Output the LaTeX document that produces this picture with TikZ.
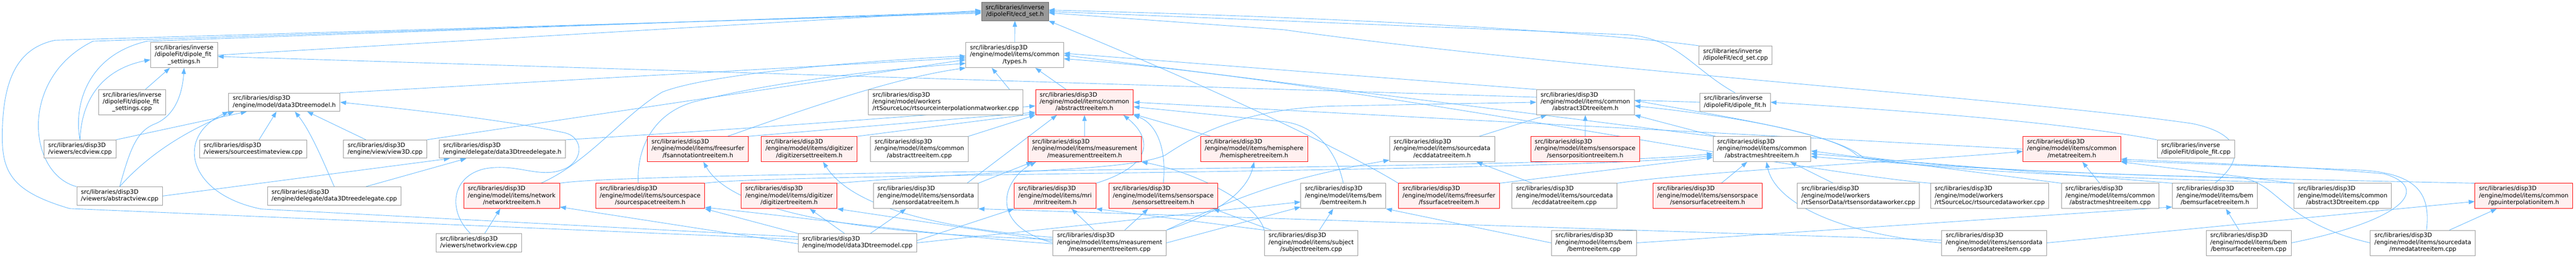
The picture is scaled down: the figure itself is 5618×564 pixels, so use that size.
\documentclass[tikz,border=0pt]{standalone}
\usepackage{fontspec}
\newfontfamily\dotfont{DejaVu Sans}
\usetikzlibrary{arrows.meta}

\definecolor{edgeblue}{HTML}{63B8FF}
\definecolor{nodegray}{HTML}{999999}
\definecolor{rootgray}{HTML}{666666}
\definecolor{truncfill}{HTML}{FFF0F0}

\pgfdeclarelayer{edges}
\pgfsetlayers{edges,main}

% file labels: upper lines flush left, last line centred
\newcommand{\twoline}[2]{\begin{tabular}{@{}c@{}}\multicolumn{1}{@{}l@{}}{#1}\\#2\end{tabular}}
\newcommand{\threeline}[3]{\begin{tabular}{@{}c@{}}\multicolumn{1}{@{}l@{}}{#1}\\\multicolumn{1}{@{}l@{}}{#2}\\#3\end{tabular}}
\newcommand{\dispfile}[2]{\threeline{src/libraries/disp3D}{#1}{#2}}
\newcommand{\disptwo}[1]{\twoline{src/libraries/disp3D}{#1}}

\begin{document}
\begin{tikzpicture}[x=1pt,y=-1pt,
	file/.style={draw=nodegray,fill=white,line width=1pt,inner xsep=9pt,inner ysep=5pt,
		font=\dotfont\fontsize{13}{15}\selectfont},
	trunc/.style={file,draw=red,fill=truncfill},
	root/.style={file,draw=rootgray,fill=nodegray},
	dep/.style={draw=edgeblue,line width=1pt,-{Triangle[length=13pt,width=9.5pt]}}]
	\path[use as bounding box] (0,0) rectangle (5618,564);

	% row 0 and 1
	\node[root]  (ecdseth)    at (2213.5,25)  {\twoline{src/libraries/inverse}{/dipoleFit/ecd\_set.h}};
	\node[file]  (dfsh)       at (401.5,120.5) {\threeline{src/libraries/inverse}{/dipoleFit/dipole\_fit}{\_settings.h}};
	\node[file]  (typesh)     at (2213,120.5) {\dispfile{/engine/model/items/common}{/types.h}};
	\node[file]  (ecdsetcpp)  at (3785,120.5) {\twoline{src/libraries/inverse}{/dipoleFit/ecd\_set.cpp}};

	% row 2
	\node[file]  (dfscpp)     at (288,223.5)  {\threeline{src/libraries/inverse}{/dipoleFit/dipole\_fit}{\_settings.cpp}};
	\node[file]  (d3tmh)      at (620,223.5)  {\disptwo{/engine/model/data3Dtreemodel.h}};
	\node[file]  (rtsimwcpp)  at (2062.5,223.5) {\dispfile{/engine/model/workers}{/rtSourceLoc/rtsourceinterpolationmatworker.cpp}};
	\node[trunc] (abstreeh)   at (2365,223.5) {\dispfile{/engine/model/items/common}{/abstracttreeitem.h}};
	\node[file]  (abs3dh)     at (3457.5,223.5) {\dispfile{/engine/model/items/common}{/abstract3Dtreeitem.h}};
	\node[file]  (dipfith)    at (3784,223.5) {\twoline{src/libraries/inverse}{/dipoleFit/dipole\_fit.h}};

	% row 3
	\node[file]  (ecdviewcpp) at (174.5,326)  {\disptwo{/viewers/ecdview.cpp}};
	\node[file]  (seviewcpp)  at (552,326)    {\disptwo{/viewers/sourceestimateview.cpp}};
	\node[file]  (view3dcpp)  at (840,326)    {\disptwo{/engine/view/view3D.cpp}};
	\node[file]  (d3tdh)      at (1095.5,326) {\disptwo{/engine/delegate/data3Dtreedelegate.h}};
	\node[trunc] (fsannoth)   at (1522,326)   {\dispfile{/engine/model/items/freesurfer}{/fsannotationtreeitem.h}};
	\node[trunc] (digisetth)  at (1765,326)   {\dispfile{/engine/model/items/digitizer}{/digitizersettreeitem.h}};
	\node[file]  (abstreecpp) at (2005,326)   {\dispfile{/engine/model/items/common}{/abstracttreeitem.cpp}};
	\node[trunc] (meash)      at (2365.5,326) {\dispfile{/engine/model/items/measurement}{/measurementtreeitem.h}};
	\node[trunc] (hemih)      at (2735,326)   {\dispfile{/engine/model/items/hemisphere}{/hemispheretreeitem.h}};
	\node[file]  (ecddatah)   at (3145,326)   {\dispfile{/engine/model/items/sourcedata}{/ecddatatreeitem.h}};
	\node[trunc] (sensorposh) at (3457,326)   {\dispfile{/engine/model/items/sensorspace}{/sensorpositiontreeitem.h}};
	\node[file]  (absmeshh)   at (3842.5,326) {\dispfile{/engine/model/items/common}{/abstractmeshtreeitem.h}};
	\node[trunc] (metah)      at (4518.5,326) {\dispfile{/engine/model/items/common}{/metatreeitem.h}};
	\node[file]  (dipfitcpp)  at (4789,326)   {\twoline{src/libraries/inverse}{/dipoleFit/dipole\_fit.cpp}};

	% row 4
	\node[file]  (absviewcpp) at (261,428.5)  {\disptwo{/viewers/abstractview.cpp}};
	\node[file]  (d3tdcpp)    at (729,428.5)  {\disptwo{/engine/delegate/data3Dtreedelegate.cpp}};
	\node[trunc] (networkh)   at (1116,428.5) {\dispfile{/engine/model/items/network}{/networktreeitem.h}};
	\node[trunc] (sourcespaceh) at (1418,428.5) {\dispfile{/engine/model/items/sourcespace}{/sourcespacetreeitem.h}};
	\node[trunc] (digith)     at (1721,428.5) {\dispfile{/engine/model/items/digitizer}{/digitizertreeitem.h}};
	\node[file]  (sensordatah) at (2019,428.5) {\dispfile{/engine/model/items/sensordata}{/sensordatatreeitem.h}};
	\node[trunc] (mrih)       at (2301,428.5) {\dispfile{/engine/model/items/mri}{/mritreeitem.h}};
	\node[trunc] (sensorseth) at (2537,428.5) {\dispfile{/engine/model/items/sensorspace}{/sensorsettreeitem.h}};
	\node[file]  (bemh)       at (2929.5,428.5) {\dispfile{/engine/model/items/bem}{/bemtreeitem.h}};
	\node[trunc] (fssurfh)    at (3160,428.5) {\dispfile{/engine/model/items/freesurfer}{/fssurfacetreeitem.h}};
	\node[file]  (ecddatacpp) at (3412,428.5) {\dispfile{/engine/model/items/sourcedata}{/ecddatatreeitem.cpp}};
	\node[trunc] (sensorsurfh) at (3724,428.5) {\dispfile{/engine/model/items/sensorspace}{/sensorsurfacetreeitem.h}};
	\node[file]  (rtsdwcpp)   at (4053,428.5) {\dispfile{/engine/model/workers}{/rtSensorData/rtsensordataworker.cpp}};
	\node[file]  (rtsrcdwcpp) at (4339.5,428.5) {\dispfile{/engine/model/workers}{/rtSourceLoc/rtsourcedataworker.cpp}};
	\node[file]  (absmeshcpp) at (4602,428.5) {\dispfile{/engine/model/items/common}{/abstractmeshtreeitem.cpp}};
	\node[file]  (bemsurfh)   at (4830.5,428.5) {\dispfile{/engine/model/items/bem}{/bemsurfacetreeitem.h}};
	\node[file]  (abs3dcpp)   at (5109,428.5) {\dispfile{/engine/model/items/common}{/abstract3Dtreeitem.cpp}};
	\node[trunc] (gpuh)       at (5504,428.5) {\dispfile{/engine/model/items/common}{/gpuinterpolationitem.h}};

	% row 5
	\node[file]  (networkviewcpp) at (1044,531) {\disptwo{/viewers/networkview.cpp}};
	\node[file]  (d3tmcpp)    at (1870,531)   {\disptwo{/engine/model/data3Dtreemodel.cpp}};
	\node[file]  (meascpp)    at (2420,531)   {\dispfile{/engine/model/items/measurement}{/measurementtreeitem.cpp}};
	\node[file]  (subjectcpp) at (2859.5,531) {\dispfile{/engine/model/items/subject}{/subjecttreeitem.cpp}};
	\node[file]  (bemcpp)     at (3476,531)   {\dispfile{/engine/model/items/bem}{/bemtreeitem.cpp}};
	\node[file]  (sensordatacpp) at (4349,531) {\dispfile{/engine/model/items/sensordata}{/sensordatatreeitem.cpp}};
	\node[file]  (bemsurfcpp) at (4904,531)   {\dispfile{/engine/model/items/bem}{/bemsurfacetreeitem.cpp}};
	\node[file]  (mnedatacpp) at (5284,531)   {\dispfile{/engine/model/items/sourcedata}{/mnedatatreeitem.cpp}};

	\begin{pgfonlayer}{edges}
	% into ecd_set.h
	\draw[dep] (dfsh.east) -- ([yshift=2pt]ecdseth.west);
	\draw[dep] (typesh) -- (ecdseth);
	\draw[dep] (ecdviewcpp.north) .. controls (160,230) and (190,120) .. (321,90) -- (ecdseth.west);
	\draw[dep] (absviewcpp.north west) .. controls (60,380) and (40,170) .. (203,90) -- ([yshift=-2pt]ecdseth.west);
	\draw[dep] ([yshift=8pt]d3tmcpp.west) -- (152,456) .. controls (30,420) and (5,380) .. (5,300)
		.. controls (5,170) and (40,105) .. (120,88) -- ([yshift=-4pt]ecdseth.west);
	\draw[dep] (ecdsetcpp.north west) .. controls (3500,72) and (3000,40) .. ([yshift=3pt]ecdseth.east);
	\draw[dep] (dipfith.north) .. controls (3690,150) and (3660,85) .. (3550,76) -- (ecdseth.east);
	\draw[dep] (bemsurfh.north) .. controls (4905,340) and (4880,290) .. (4780,270)
		.. controls (4400,215) and (3400,150) .. (2800,65) -- ([yshift=-3pt]ecdseth.east);
	\draw[dep] (fssurfh.north west) .. controls (2960,345) and (2700,215) .. (ecdseth.south east);

	% into dipole_fit_settings.h
	\draw[dep] ([xshift=29pt]dfscpp.north) -- ([xshift=-31pt]dfsh.south);
	\draw[dep] (ecdviewcpp.north) .. controls (178,210) and (230,150) .. ([yshift=-10pt]dfsh.west);
	\draw[dep] (absviewcpp.north) .. controls (285,320) and (300,285) .. (340,270)
		.. controls (385,250) and (398,200) .. (dfsh.south);
	\draw[dep] (dipfith.west) -- ([yshift=-3pt]dfsh.east);

	% into data3Dtreemodel.h
	\draw[dep] (ecdviewcpp.north east) -- ([xshift=40pt]d3tmh.south west);
	\draw[dep] (absviewcpp.north) .. controls (330,330) and (420,280) .. ([xshift=12pt]d3tmh.south west);
	\draw[dep] ([yshift=13pt]d3tmcpp.west) -- (570,457) .. controls (410,425) and (380,300) .. (d3tmh.south west);
	\draw[dep] ([xshift=13pt]seviewcpp.north) -- ([xshift=-17pt]d3tmh.south);
	\draw[dep] (d3tdcpp.north) .. controls (712,370) and (680,290) .. ([xshift=23pt]d3tmh.south);
	\draw[dep] ([xshift=-42pt]view3dcpp.north) -- ([xshift=50pt]d3tmh.south);
	\draw[dep] ([xshift=-18pt]networkviewcpp.north) .. controls (975,460) and (985,385) .. (1057,369)
		.. controls (1130,355) and (1180,395) .. (1236,367)
		.. controls (1275,345) and (1270,298) .. (1230,290)
		.. controls (1100,262) and (900,240) .. (d3tmh.east);

	% into data3Dtreedelegate.h
	\draw[dep] (absviewcpp.east) -- ([xshift=24pt]d3tdh.south west);
	\draw[dep] ([xshift=69pt]d3tdcpp.north) -- ([xshift=60pt]d3tdh.south west);

	% into types.h
	\draw[dep] (d3tmh.north east) -- ([yshift=-6pt]typesh.west);
	\draw[dep] ([xshift=-30pt]rtsimwcpp.north east) -- ([xshift=-50pt]typesh.south);
	\draw[dep] ([xshift=-40pt]abstreeh.north) -- ([xshift=45pt]typesh.south);
	\draw[dep] (view3dcpp.north east) -- ([yshift=-10pt]typesh.west);
	\draw[dep] ([xshift=64pt]networkh.north) .. controls (1290,350) and (1360,250) .. (1445,201)
		.. controls (1550,160) and (1900,132) .. ([yshift=-2pt]typesh.west);
	\draw[dep] ([xshift=-26pt]sourcespaceh.north) .. controls (1388,330) and (1420,250) .. (1512,223)
		.. controls (1700,175) and (1950,150) .. ([yshift=-18pt]typesh.west);
	\draw[dep] ([xshift=65pt]fsannoth.north) .. controls (1750,240) and (1950,170) .. (typesh.south west);
	\draw[dep] (abs3dh.north west) -- ([yshift=4pt]typesh.east);
	\draw[dep] (absmeshh.north west) -- (typesh.east);
	\draw[dep] (rtsrcdwcpp.north west) .. controls (3900,375) and (2900,170) .. ([yshift=-8pt]typesh.east);

	% into abstracttreeitem.h
	\draw[dep] (d3tdh.north east) .. controls (1500,290) and (2000,255) .. ([yshift=-8pt]abstreeh.west);
	\draw[dep] (meash) -- (abstreeh);
	\draw[dep] (mrih.north east) .. controls (2520,360) and (2510,300) .. ([xshift=-22pt]abstreeh.south east);
	\draw[dep] (sensorseth.north) .. controls (2545,320) and (2520,270) .. (abstreeh.south east);
	\draw[dep] ([xshift=-95pt]hemih.north) -- ([yshift=2pt]abstreeh.south east);
	\draw[dep] (fsannoth.north east) -- ([yshift=6pt]abstreeh.south west);
	\draw[dep] (digisetth.north east) -- ([yshift=3pt]abstreeh.south west);
	\draw[dep] (abstreecpp.north east) -- (abstreeh.south west);
	\draw[dep] (metah.west) -- (abstreeh.east);
	\draw[dep] (bemh.north) .. controls (2915,330) and (2870,275) .. (2800,266) -- ([yshift=-10pt]abstreeh.east);
	\draw[dep] ([xshift=90pt]sensordatah.north) -- ([xshift=-60pt]abstreeh.south);

	% into measurementtreeitem.h and the other item headers
	\draw[dep] (meascpp.west) .. controls (2150,490) and (2190,390) .. ([xshift=18pt]meash.south west);
	\draw[dep] (sensordatah.north east) -- ([xshift=10pt]meash.south west);
	\draw[dep] (subjectcpp.north west) .. controls (2740,440) and (2600,375) .. (meash.south east);
	\draw[dep] ([xshift=-34pt]meascpp.north) -- ([xshift=36pt]mrih.south);
	\draw[dep] ([xshift=33pt]meascpp.north) -- ([xshift=-33pt]sensorseth.south);
	\draw[dep] (meascpp.north east) .. controls (2650,470) and (2720,420) .. (hemih.south);
	\draw[dep] ([yshift=12pt]meascpp.west) .. controls (2000,495) and (1850,440) .. ([xshift=30pt]digisetth.south);
	\draw[dep] ([xshift=-28pt]d3tmcpp.north) -- ([xshift=45pt]digith.south);
	\draw[dep] ([yshift=4pt]meascpp.west) -- (digith.south east);
	\draw[dep] ([xshift=28pt]d3tmcpp.north) -- ([xshift=-43pt]sensordatah.south);
	\draw[dep] ([yshift=8pt]meascpp.west) .. controls (1900,512) and (1600,470) .. ([xshift=12pt]fsannoth.south);
	\draw[dep] (d3tmcpp.north west) -- (sourcespaceh.south east);
	\draw[dep] ([yshift=-2pt]meascpp.west) .. controls (2100,520) and (1700,470) .. ([yshift=3pt]sourcespaceh.south east);
	\draw[dep] ([yshift=-2pt]d3tmcpp.west) -- ([yshift=4pt]networkh.south east);
	\draw[dep] ([xshift=13pt]networkviewcpp.north) -- ([xshift=-25pt]networkh.south);
	\draw[dep] ([yshift=5pt]d3tmcpp.east) -- (mrih.south west);
	\draw[dep] (subjectcpp.north west) -- (mrih.south east);
	\draw[dep] ([xshift=15pt]subjectcpp.north west) -- ([xshift=-10pt]sensorseth.south east);
	\draw[dep] ([yshift=6pt]sensordatacpp.west) -- (sensordatah.south east);

	% into abstractmeshtreeitem.h
	\draw[dep] (networkh.north east) .. controls (1400,372) and (3400,372) .. ([yshift=-10pt]absmeshh.west);
	\draw[dep] (sourcespaceh.north east) .. controls (1700,378) and (3400,378) .. ([yshift=-14pt]absmeshh.west);
	\draw[dep] (fssurfh.north east) -- ([yshift=-18pt]absmeshh.west);
	\draw[dep] ([xshift=30pt]sensorsurfh.north) -- ([xshift=-32pt]absmeshh.south);
	\draw[dep] ([xshift=-55pt]rtsdwcpp.north) -- ([xshift=62pt]absmeshh.south);
	\draw[dep] (bemsurfh.north west) -- ([yshift=-10pt]absmeshh.east);
	\draw[dep] (absmeshcpp.north west) -- ([yshift=-4pt]absmeshh.east);
	\draw[dep] (sensordatacpp.west) .. controls (4000,510) and (3870,440) .. ([xshift=10pt]absmeshh.south);
	\draw[dep] (mnedatacpp.west) .. controls (4970,485) and (4970,395) .. (4880,388)
		.. controls (4500,380) and (4150,360) .. ([yshift=-16pt]absmeshh.east);

	% into metatreeitem.h
	\draw[dep] ([xshift=-23pt]absmeshcpp.north) -- ([xshift=23pt]metah.south);
	\draw[dep] ([xshift=8pt]mnedatacpp.north) .. controls (5300,430) and (5280,380) .. (5150,372)
		.. controls (4900,362) and (4750,356) .. ([yshift=2pt]metah.south east);
	\draw[dep] (bemsurfcpp.east) .. controls (5250,480) and (5300,410) .. (5200,380)
		.. controls (5000,362) and (4750,354) .. ([yshift=6pt]metah.south east);
	\draw[dep] (abs3dcpp.north west) -- (metah.south east);
	\draw[dep] (ecddatacpp.north east) .. controls (3700,375) and (4200,350) .. ([yshift=-5pt]metah.west);

	% into dipole_fit.h and abstract3Dtreeitem.h
	\draw[dep] (dipfitcpp.north west) .. controls (4500,268) and (4200,245) .. (dipfith.east);
	\draw[dep] (sensorposh) -- (abs3dh);
	\draw[dep] ([xshift=81pt]ecddatah.north) -- ([xshift=-84pt]abs3dh.south);
	\draw[dep] ([xshift=-101pt]absmeshh.north) -- (abs3dh.south east);
	\draw[dep] (digith.north east) .. controls (2200,370) and (2450,375) .. (2540,340)
		.. controls (2600,300) and (2700,240) .. (2900,232) -- (abs3dh.west);
	\draw[dep] (gpuh.north west) .. controls (4900,390) and (4300,380) .. (4050,340)
		.. controls (4000,290) and (3750,250) .. ([yshift=-8pt]abs3dh.east);
	\draw[dep] (abs3dcpp.north west) .. controls (4900,395) and (4320,386) .. (4065,346)
		.. controls (4010,292) and (3760,255) .. ([yshift=4pt]abs3dh.east);

	% into the sourcedata, bem and common headers
	\draw[dep] ([xshift=-70pt]ecddatacpp.north) -- ([xshift=75pt]ecddatah.south);
	\draw[dep] (meascpp.north east) .. controls (2700,430) and (2800,390) .. ([yshift=4pt]ecddatah.south west);
	\draw[dep] ([xshift=18pt]subjectcpp.north) -- ([xshift=-22pt]bemh.south);
	\draw[dep] (bemcpp.west) -- (bemh.south east);
	\draw[dep] (d3tmcpp.east) -- ([yshift=-13pt]bemh.west);
	\draw[dep] (meascpp.east) -- ([yshift=-24pt]bemh.west);
	\draw[dep] (bemcpp.east) -- ([yshift=4pt]bemsurfh.south west);
	\draw[dep] ([xshift=-21pt]bemsurfcpp.north) -- ([xshift=24pt]bemsurfh.south);
	\draw[dep] ([xshift=58pt]mnedatacpp.north) -- ([xshift=-59pt]gpuh.south);
	\draw[dep] (sensordatacpp.east) -- ([yshift=-12pt]gpuh.west);
	\end{pgfonlayer}
\end{tikzpicture}
\end{document}
